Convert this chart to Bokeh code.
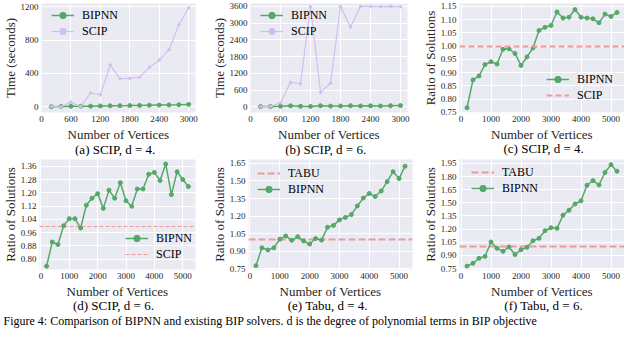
from bokeh.plotting import figure
from bokeh.layouts import column, row
from bokeh.models import Range1d, FixedTicker, PrintfTickFormatter, Legend, LegendItem, Label, Title
from bokeh.embed import file_html
from bokeh.resources import INLINE

FONT = "Liberation Serif"
BG = "#EAEAF2"
GREEN = "#55A868"
PURPLE = "#D4BDF2"
RED = "#EE9A9A"
TEXT = "#262626"

# ---------------- data ----------------
n_small = [200, 400, 600, 800, 1000, 1200, 1400, 1600, 1800, 2000, 2200, 2400, 2600, 2800, 3000]
bipnn_time_d4 = [4, 6, 8, 9, 10, 12, 14, 16, 17, 19, 21, 23, 25, 27, 31]
scip_time_d4 = [5, 1, 58, 4, 167, 145, 502, 338, 342, 356, 473, 560, 684, 982, 1185]
bipnn_time_d6 = [12, 18, 25, 40, 25, 20, 45, 30, 35, 45, 35, 40, 35, 45, 50]
scip_time_d6 = [10, 20, 150, 880, 830, 3600, 520, 850, 3600, 2860, 3600, 3600, 3590, 3600, 3590]

n_large = [200, 400, 600, 800, 1000, 1200, 1400, 1600, 1800, 2000, 2200, 2400, 2600,
           2800, 3000, 3200, 3400, 3600, 3800, 4000, 4200, 4400, 4600, 4800, 5000, 5200]
ratio_scip_d4 = [0.767, 0.872, 0.887, 0.930, 0.941, 0.932, 0.988, 0.990, 0.972, 0.927, 0.959, 0.993, 1.059,
                 1.071, 1.078, 1.129, 1.106, 1.109, 1.138, 1.109, 1.106, 1.103, 1.088, 1.121, 1.112, 1.127]
ratio_scip_d6 = [0.758, 0.904, 0.889, 1.002, 1.045, 1.045, 0.988, 1.126, 1.168, 1.196, 1.107, 1.217, 1.168,
                 1.262, 1.153, 1.120, 1.224, 1.224, 1.313, 1.324, 1.275, 1.375, 1.190, 1.328, 1.281, 1.239]
ratio_tabu_d4 = [0.777, 0.930, 0.912, 0.930, 1.004, 1.031, 0.994, 1.025, 0.988, 0.962, 1.009, 0.996, 1.105,
                 1.121, 1.168, 1.189, 1.213, 1.287, 1.354, 1.393, 1.367, 1.414, 1.494, 1.579, 1.520, 1.626]
ratio_tabu_d6 = [0.778, 0.810, 0.867, 0.889, 1.053, 0.981, 0.946, 0.996, 0.910, 0.964, 0.992, 1.067, 1.095,
                 1.181, 1.216, 1.209, 1.359, 1.416, 1.487, 1.523, 1.701, 1.754, 1.704, 1.847, 1.936, 1.861]
baseline = [1.0]

xticks_small = [0, 600, 1200, 1800, 2400, 3000]
xticks_large = [0, 1000, 2000, 3000, 4000, 5000]
yticks_a = [0, 400, 800, 1200]
yticks_b = [0, 600, 1200, 1800, 2400, 3000, 3600]
yticks_c = [0.75, 0.80, 0.85, 0.90, 0.95, 1.00, 1.05, 1.10, 1.15]
yticks_d = [0.80, 0.88, 0.96, 1.04, 1.12, 1.20, 1.28, 1.36]
yticks_e = [0.75, 0.90, 1.05, 1.20, 1.35, 1.50, 1.65]
yticks_f = [0.75, 0.90, 1.05, 1.20, 1.35, 1.50, 1.65, 1.80, 1.95]

captions = ["(a) SCIP, d = 4.", "(b) SCIP, d = 6.", "(c) SCIP, d = 4.",
            "(d) SCIP, d = 6.", "(e) Tabu, d = 4.", "(f) Tabu, d = 6."]
figure_caption = ("Figure 4: Comparison of BIPNN and existing BIP solvers. d is the degree of "
                  "polynomial terms in BIP objective")


def axis_title(text):
    return Title(text=text, align="center", text_font=FONT, text_font_size="13px",
                 text_font_style="normal", text_color=TEXT, standoff=0)


def make_panel(geom, xr, yr, xticks, yticks, yfmt, ylabel):
    width, height, left, right, top, bottom = geom
    p = figure(width=width, height=height,
               min_border_left=left, min_border_right=right,
               min_border_top=top, min_border_bottom=bottom,
               x_range=Range1d(*xr), y_range=Range1d(*yr),
               output_backend="svg", toolbar_location=None, tools="",
               background_fill_color=BG, border_fill_color="white",
               outline_line_color=None)
    p.xaxis.ticker = FixedTicker(ticks=xticks)
    p.yaxis.ticker = FixedTicker(ticks=yticks)
    if yfmt:
        p.yaxis.formatter = PrintfTickFormatter(format=yfmt)
    p.axis.axis_line_color = None
    p.axis.major_tick_line_color = None
    p.axis.minor_tick_line_color = None
    p.axis.major_tick_out = 0
    p.axis.major_tick_in = 0
    p.axis.major_label_text_font = FONT
    p.axis.major_label_text_font_size = "9px"
    p.axis.major_label_text_font_style = "normal"
    p.axis.major_label_text_color = TEXT
    p.axis.major_label_standoff = 3
    p.add_layout(axis_title("Number of Vertices"), "below")
    p.add_layout(axis_title(ylabel), "left")
    p.grid.grid_line_color = "white"
    p.grid.grid_line_width = 1
    return p


def text_strip(width, height, text, x, y, size, align="center", baseline="middle"):
    s = figure(width=width, height=height, x_range=Range1d(0, width), y_range=Range1d(0, height),
               output_backend="svg", toolbar_location=None, tools="",
               min_border=0, outline_line_color=None, background_fill_color="white",
               border_fill_color="white")
    s.axis.visible = False
    s.grid.visible = False
    s.add_layout(Label(x=x, y=height - y, text=text, text_align=align, text_baseline=baseline,
                       text_font=FONT, text_font_size=size, text_color="black"))
    return s


def style_legend(p, items, loc):
    leg = Legend(items=items, location=loc, orientation="vertical")
    leg.background_fill_alpha = 0
    leg.border_line_color = None
    leg.label_text_font = FONT
    leg.label_text_font_size = "12px"
    leg.label_text_color = "black"
    leg.glyph_width = 23
    leg.glyph_height = 16
    leg.label_height = 16
    leg.spacing = 0
    leg.label_standoff = 8
    leg.padding = 0
    leg.margin = 0
    p.add_layout(leg)


def bipnn(p, x, y):
    l = p.line(x, y, line_color=GREEN, line_width=1.5)
    s = p.scatter(x, y, size=4, fill_color=GREEN, line_color=GREEN)
    return [l, s]


# geometry: width, height, min_border left/right/top/bottom
geom_a = (209, 141, 38, 14, 3, 28)
geom_b = (211, 141, 41, 13, 3, 28)
geom_c = (204, 141, 38, 0, 3, 28)
geom_d = (209, 142, 34, 14, 3, 27)
geom_e = (211, 142, 39, 8, 3, 27)
geom_f = (204, 142, 38, 0, 3, 27)

# ---------------- top row ----------------
pa = make_panel(geom_a, (0, 3140), (-66, 1236), xticks_small, yticks_a, None, "Time (seconds)")
ga = bipnn(pa, n_small, bipnn_time_d4)
la = pa.line(n_small, scip_time_d4, line_color=PURPLE, line_width=1.2)
sa = pa.scatter(n_small, scip_time_d4, size=2.5, fill_color=PURPLE, line_color=PURPLE)
style_legend(pa, [LegendItem(label="BIPNN", renderers=ga),
                  LegendItem(label="SCIP", renderers=[la, sa])], (10, 73))

pb = make_panel(geom_b, (0, 3140), (-199, 3706), xticks_small, yticks_b, None, "Time (seconds)")
gb = bipnn(pb, n_small, bipnn_time_d6)
lb = pb.line(n_small, scip_time_d6, line_color=PURPLE, line_width=1.2)
sb = pb.scatter(n_small, scip_time_d6, size=2.5, fill_color=PURPLE, line_color=PURPLE)
style_legend(pb, [LegendItem(label="BIPNN", renderers=gb),
                  LegendItem(label="SCIP", renderers=[lb, sb])], (10, 73))

pc = make_panel(geom_c, (-50, 5450), (0.749, 1.161), xticks_large, yticks_c, "%.2f", "Ratio of Solutions")
gc = bipnn(pc, n_large, ratio_scip_d4)
hc = pc.hspan(y=baseline, line_color=RED, line_width=2, line_dash="6 3")
style_legend(pc, [LegendItem(label="BIPNN", renderers=gc),
                  LegendItem(label="SCIP", renderers=[hc])], (87, 9))

# ---------------- bottom row ----------------
pd_ = make_panel(geom_d, (-50, 5450), (0.738, 1.402), xticks_large, yticks_d, "%.2f", "Ratio of Solutions")
hd = pd_.hspan(y=baseline, line_color=RED, line_width=1, line_dash="4 2")
gd = bipnn(pd_, n_large, ratio_scip_d6)
style_legend(pd_, [LegendItem(label="BIPNN", renderers=gd),
                   LegendItem(label="SCIP", renderers=[hd])], (86, 7))

pe = make_panel(geom_e, (-50, 5450), (0.745, 1.683), xticks_large, yticks_e, "%.2f", "Ratio of Solutions")
he = pe.hspan(y=baseline, line_color=RED, line_width=2, line_dash="7 3")
ge = bipnn(pe, n_large, ratio_tabu_d4)
style_legend(pe, [LegendItem(label="TABU", renderers=[he]),
                  LegendItem(label="BIPNN", renderers=ge)], (9, 72))

pf = make_panel(geom_f, (-50, 5450), (0.739, 1.995), xticks_large, yticks_f, "%.2f", "Ratio of Solutions")
hf = pf.hspan(y=baseline, line_color=RED, line_width=2, line_dash="7 3")
gf = bipnn(pf, n_large, ratio_tabu_d6)
style_legend(pf, [LegendItem(label="TABU", renderers=[hf]),
                  LegendItem(label="BIPNN", renderers=gf)], (12, 73))

# ---------------- captions ----------------
ca = text_strip(209, 15, captions[0], 100, 7.5, "13px")
cb = text_strip(211, 15, captions[1], 101, 7.5, "13px")
cc = text_strip(204, 15, captions[2], 104, 7, "13px")
cd = text_strip(209, 15, captions[3], 99, 7, "13px")
ce = text_strip(211, 15, captions[4], 102, 7, "13px")
cf = text_strip(204, 15, captions[5], 104, 7, "13px")
cap = text_strip(624, 15, figure_caption, 3, 7.5, "12px", align="left", baseline="middle")

layout = column(row(column(pa, ca), column(pb, cb), column(pc, cc)),
                row(column(pd_, cd), column(pe, ce), column(pf, cf)),
                cap)

with open("out.html", "w") as f:
    f.write(file_html(layout, INLINE))
